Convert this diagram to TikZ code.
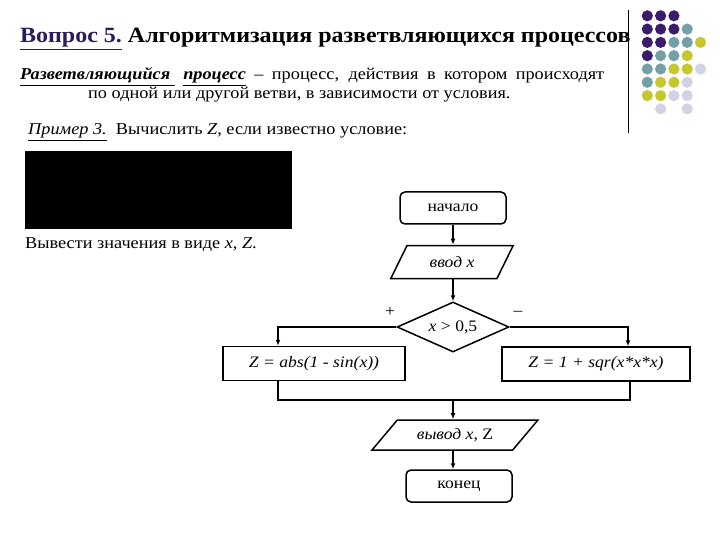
\documentclass[tikz,border=0pt]{standalone}
\usepackage{fontspec}
\setmainfont{Liberation Serif}[FakeStretch=1.1]
\usetikzlibrary{shapes.geometric,arrows.meta}

\definecolor{dotpurple}{HTML}{3B1C6C}
\definecolor{dotteal}{HTML}{72A0A6}
\definecolor{dotyellow}{HTML}{C8C62E}
\definecolor{dotlav}{HTML}{D2D2E6}
\definecolor{titlenavy}{HTML}{2B1B5E}

\begin{document}
\begin{tikzpicture}[x=1pt,y=-1pt,
		txt/.style={inner sep=0pt,font=\fontsize{16.6}{19}\selectfont},
		term/.style={draw,line width=1.5pt,rounded corners=5pt,minimum width=106pt,minimum height=32pt,inner sep=2pt,font=\fontsize{16}{18}\selectfont},
		io/.style={draw,line width=1.5pt,trapezium,trapezium left angle=#1,trapezium right angle=180-#1,trapezium stretches=true,inner sep=2pt,font=\fontsize{16}{18}\selectfont},
		decision/.style={draw,line width=1.5pt,diamond,aspect=2.24,minimum width=112pt,minimum height=50pt,inner sep=0pt,font=\fontsize{16}{18}\selectfont},
		calc/.style={draw,line width=1.5pt,minimum height=34pt,inner sep=2pt,font=\fontsize{16}{18}\selectfont\itshape},
		arr/.style={-{Latex[length=6pt,width=5pt]},line width=1.5pt},
		flow/.style={line width=1.5pt}]
		
		\useasboundingbox (0,0) rectangle (720,540);
		
		% dots in the corner
		\draw[line width=0.8pt] (628,10) -- (628,133);
		\foreach \c/\r/\col in {1/1/dotpurple,2/1/dotpurple,3/1/dotpurple,
			1/2/dotpurple,2/2/dotpurple,3/2/dotpurple,4/2/dotteal,
			1/3/dotpurple,2/3/dotpurple,3/3/dotteal,4/3/dotteal,5/3/dotyellow,
			1/4/dotpurple,2/4/dotteal,3/4/dotteal,4/4/dotyellow,
			1/5/dotteal,2/5/dotteal,3/5/dotyellow,4/5/dotyellow,5/5/dotlav,
			1/6/dotteal,2/6/dotyellow,3/6/dotyellow,4/6/dotlav,
			1/7/dotyellow,2/7/dotyellow,3/7/dotlav,4/7/dotlav,
			2/8/dotlav,4/8/dotlav}
		\fill[\col] (634+13.3*\c,2.5+13.3*\r) circle (5.6);
		
		% text
		\node[anchor=base west,inner sep=0pt,font=\fontsize{21.8}{25}\selectfont\bfseries] (title) at (20,43)
			{\textcolor{titlenavy}{\underline{Вопрос 5.}} Алгоритмизация разветвляющихся процессов};
		\node[txt,anchor=base west] (def1) at (20,80)
			{\makebox[584pt][s]{\textbf{\textit{\underline{Разветвляющийся\ }}} \textbf{\textit{\underline{процесс}}} – процесс, действия в котором происходят}};
		\node[txt,anchor=base west] (def2) at (88,99) {по одной или другой ветви, в зависимости от условия.};
		\node[txt,anchor=base west] (ex) at (28,135) {\textit{\underline{Пример 3.}}\ \ Вычислить \textit{Z}, если известно условие:};
		\fill (25,151) rectangle (292,229);
		\node[txt,anchor=base west] (task) at (25,248) {Вывести значения в виде \textit{x}, \textit{Z}.};
		
		% flowchart
		\node[term] (start) at (453,208) {начало};
		\node[io=60,minimum width=123pt,minimum height=33pt] (in) at (452,262) {\textit{ввод x}};
		\node[decision] (test) at (453,327) {\textit{x} > 0,5};
		\node[font=\fontsize{16}{18}\selectfont] (plus) at (390,312) {+};
		\node[font=\fontsize{16}{18}\selectfont] (minus) at (518,313) {–};
		\node[calc,minimum width=182pt] (left) at (314,363.5) {Z = abs(1 - sin(x))};
		\node[calc,minimum width=188pt] (right) at (596,364) {Z = 1 + sqr(x*x*x)};
		\coordinate (join) at (453,400);
		\node[io=45,minimum width=166pt,minimum height=30pt] (out) at (455,435) {\textit{вывод x}, Z};
		\node[term] (stop) at (459,486) {конец};
		
		\draw[arr] (start) -- (start |- in.north);
		\draw[arr] (start |- in.south) -- (test);
		\draw[arr] (test.west) -| ([xshift=-36pt]left.north);
		\draw[arr] (test.east) -| ([xshift=32pt]right.north);
		\draw[flow] ([xshift=-36pt]left.south) |- (join);
		\draw[flow] ([xshift=34pt]right.south) |- (join);
		\draw[arr] (join) -- (out.north -| join);
		\draw[arr] (out.south -| join) -- (stop.north -| join);
	\end{tikzpicture}
\end{document}
